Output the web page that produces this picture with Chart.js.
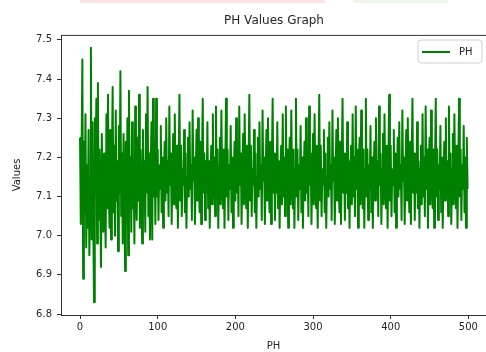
<!DOCTYPE html>
<html>
<head>
<meta charset="utf-8">
<script src="https://cdn.jsdelivr.net/npm/chart.js@4/dist/chart.umd.min.js"></script>
<style>
  html, body { margin: 0; padding: 0; background: #fff; }
  #wrap { position: relative; width: 486px; height: 352px; }
  #wrap canvas { position: relative; }
  .smear { position: absolute; top: 0; height: 3px; }
</style>
</head>
<body>
<div id="wrap">
  <div class="smear" style="left:80px;width:245px;background:#fde3e3;"></div>
  <div class="smear" style="left:353px;width:95px;background:#eff7e8;"></div>
  <canvas id="phChart" width="486" height="352"></canvas>
</div>
<script>
// pH readings, one per sample index
const phValues = [
  7.25,7.03,7.21,7.45,6.89,7.24,7.06,7.31,6.97,7.18,
  7.02,7.27,6.95,7.14,7.48,6.99,7.29,7.05,6.83,7.30,
  7.11,7.35,6.98,7.39,7.04,7.22,7.08,6.92,7.26,7.13,
  7.01,7.21,7.10,6.97,7.31,7.07,7.36,7.12,7.02,7.27,
  6.99,7.18,7.38,7.06,7.23,7.00,7.32,7.09,7.19,6.96,
  7.28,7.11,7.42,7.05,7.21,6.98,7.26,7.14,6.91,7.24,
  7.03,7.30,6.95,7.37,7.10,7.20,7.01,7.29,7.07,7.17,
  6.98,7.33,7.12,7.04,7.25,7.09,7.36,7.02,7.22,7.13,
  6.98,7.27,7.08,7.19,7.01,7.31,7.11,7.38,7.05,7.21,
  6.99,7.17,7.29,6.99,7.35,7.10,7.24,7.03,
  7.35,7.10,7.22,7.04,7.18,7.12,7.28,7.06,7.20,7.02,7.16,7.24,7.09,7.30,7.11,7.19,7.05,7.33,7.13,7.21,7.03,7.17,7.26,7.08,7.31,7.14,7.07,7.23,7.02,7.18,
  7.36,7.09,7.23,7.05,7.17,7.13,7.27,7.06,7.21,7.02,7.15,7.25,7.10,7.29,7.12,7.18,7.04,7.32,7.14,7.20,7.03,7.16,7.27,7.09,7.30,7.13,7.06,7.24,7.03,7.19,
  7.35,7.11,7.21,7.04,7.19,7.11,7.29,7.07,7.19,7.02,7.17,7.23,7.08,7.31,7.10,7.20,7.05,7.33,7.12,7.22,7.02,7.18,7.25,7.08,7.32,7.15,7.07,7.22,7.02,7.17,
  7.35,7.10,7.22,7.04,7.18,7.12,7.28,7.06,7.20,7.02,7.16,7.24,7.09,7.30,7.11,7.19,7.05,7.33,7.13,7.21,7.03,7.17,7.26,7.08,7.31,7.14,7.07,7.23,7.02,7.18,
  7.36,7.09,7.23,7.05,7.17,7.13,7.27,7.06,7.21,7.02,7.15,7.25,7.10,7.29,7.12,7.18,7.04,7.32,7.14,7.20,7.03,7.16,7.27,7.09,7.30,7.13,7.06,7.24,7.03,7.19,
  7.35,7.11,7.21,7.04,7.19,7.11,7.29,7.07,7.19,7.02,7.17,7.23,7.08,7.31,7.10,7.20,7.05,7.33,7.12,7.22,7.02,7.18,7.25,7.08,7.32,7.15,7.07,7.22,7.02,7.17,
  7.35,7.10,7.22,7.04,7.18,7.12,7.28,7.06,7.20,7.02,7.16,7.24,7.09,7.30,7.11,7.19,7.05,7.33,7.13,7.21,7.03,7.17,7.26,7.08,7.31,7.14,7.07,7.23,7.02,7.18,
  7.36,7.09,7.23,7.05,7.17,7.13,7.27,7.06,7.21,7.02,7.15,7.25,7.10,7.29,7.12,7.18,7.04,7.32,7.14,7.20,7.03,7.16,7.27,7.09,7.30,7.13,7.06,7.24,7.03,7.19,
  7.35,7.11,7.21,7.04,7.19,7.11,7.29,7.07,7.19,7.02,7.17,7.23,7.08,7.31,7.10,7.20,7.05,7.33,7.12,7.22,7.02,7.18,7.25,7.08,7.32,7.15,7.07,7.22,7.02,7.17,
  7.35,7.10,7.22,7.04,7.18,7.12,7.28,7.06,7.20,7.02,7.16,7.24,7.09,7.30,7.11,7.19,7.05,7.33,7.13,7.21,7.03,7.17,7.26,7.08,7.31,7.14,7.07,7.23,7.02,7.18,
  7.36,7.09,7.23,7.05,7.17,7.13,7.27,7.06,7.21,7.02,7.15,7.25,7.10,7.29,7.12,7.18,7.04,7.32,7.14,7.20,7.03,7.16,7.27,7.09,7.30,7.13,7.06,7.24,7.03,7.19,
  7.35,7.11,7.21,7.04,7.19,7.11,7.29,7.07,7.19,7.02,7.17,7.23,7.08,7.31,7.10,7.20,7.05,7.33,7.12,7.22,7.02,7.18,7.25,7.08,7.32,7.15,7.07,7.22,7.02,7.17,
  7.35,7.10,7.22,7.04,7.18,7.12,7.28,7.06,7.20,7.02,7.16,7.24,7.09,7.30,7.11,7.19,7.05,7.33,7.13,7.21,7.03,7.17,7.26,7.08,7.31,7.14,7.07,7.23,7.02,7.18,
  7.35,7.10,7.22,7.04,7.18,7.12,7.28,7.06,7.20,7.02,7.25,7.12
];

const xTicks = [0, 100, 200, 300, 400, 500];
const yTicks = [6.8, 6.9, 7.0, 7.1, 7.2, 7.3, 7.4, 7.5];

const titleText = "PH Values Graph";
const seriesName = "PH";
const xLabel = "PH";
const yLabel = "Values";

const FONT = '"DejaVu Sans", sans-serif';
const INK = "#262626";

// title centred over the plot area + top spine + legend box (matplotlib look)
const frame = {
  id: "frame",
  afterDraw(chart) {
    const { ctx, chartArea } = chart;
    ctx.save();
    ctx.strokeStyle = "#000";
    ctx.lineWidth = 0.8;
    ctx.beginPath();
    ctx.moveTo(chartArea.left, chartArea.top + 0.4);
    ctx.lineTo(chartArea.right + 2, chartArea.top + 0.4);
    ctx.stroke();

    ctx.fillStyle = INK;
    ctx.font = "12px " + FONT;
    ctx.textAlign = "center";
    ctx.textBaseline = "middle";
    ctx.fillText(titleText, (chartArea.left + chartArea.right + 1) / 2, 21);

    // legend
    const bx = 418, by = 40, bw = 64, bh = 23, r = 3;
    ctx.beginPath();
    ctx.moveTo(bx + r, by);
    ctx.arcTo(bx + bw, by, bx + bw, by + bh, r);
    ctx.arcTo(bx + bw, by + bh, bx, by + bh, r);
    ctx.arcTo(bx, by + bh, bx, by, r);
    ctx.arcTo(bx, by, bx + bw, by, r);
    ctx.closePath();
    ctx.fillStyle = "rgba(255,255,255,0.8)";
    ctx.fill();
    ctx.strokeStyle = "#d0d0d0";
    ctx.lineWidth = 1;
    ctx.stroke();

    ctx.strokeStyle = "#008000";
    ctx.lineWidth = 2;
    ctx.beginPath();
    ctx.moveTo(422, 52);
    ctx.lineTo(450, 52);
    ctx.stroke();

    ctx.fillStyle = INK;
    ctx.font = "10px " + FONT;
    ctx.textAlign = "left";
    ctx.fillText(seriesName, 459, 52);
    ctx.restore();
  }
};

const phChart = new Chart(document.getElementById("phChart"), {
  type: "line",
  data: {
    datasets: [{
      label: seriesName,
      data: phValues.map((v, i) => ({ x: i, y: v })),
      borderColor: "#008000",
      borderWidth: 2,
      pointRadius: 0,
      tension: 0,
      borderJoinStyle: "round",
      fill: false
    }]
  },
  options: {
    responsive: false,
    animation: false,
    devicePixelRatio: 1,
    layout: { padding: { top: 35, left: 0, right: 0, bottom: 0 } },
    plugins: {
      legend: { display: false },
      title: { display: false },
      tooltip: { enabled: false }
    },
    scales: {
      x: {
        type: "linear",
        min: -24.5,
        max: 522.7,
        afterBuildTicks: (scale) => { scale.ticks = xTicks.map(v => ({ value: v })); },
        afterFit: (scale) => { scale.height = 37; },
        ticks: {
          color: INK,
          font: { family: FONT, size: 10 },
          padding: 2,
          maxRotation: 0
        },
        grid: { drawOnChartArea: false, drawTicks: true, tickLength: 4, color: "#000", lineWidth: 0.8 },
        border: { display: true, color: "#000", width: 0.8 },
        title: {
          display: true,
          text: xLabel,
          color: INK,
          font: { family: FONT, size: 10 },
          padding: { top: 0, bottom: 0 }
        }
      },
      y: {
        min: 6.7975,
        max: 7.5125,
        afterBuildTicks: (scale) => { scale.ticks = yTicks.map(v => ({ value: v })); },
        afterFit: (scale) => { scale.width = 61; },
        ticks: {
          color: INK,
          font: { family: FONT, size: 10 },
          padding: 5,
          callback: (v) => v.toFixed(1)
        },
        grid: { drawOnChartArea: false, drawTicks: true, tickLength: 4, color: "#000", lineWidth: 0.8 },
        border: { display: true, color: "#000", width: 0.8 },
        title: {
          display: true,
          text: yLabel,
          color: INK,
          font: { family: FONT, size: 10 },
          padding: { top: 11, bottom: 0 }
        }
      }
    }
  },
  plugins: [frame]
});
</script>
</body>
</html>
